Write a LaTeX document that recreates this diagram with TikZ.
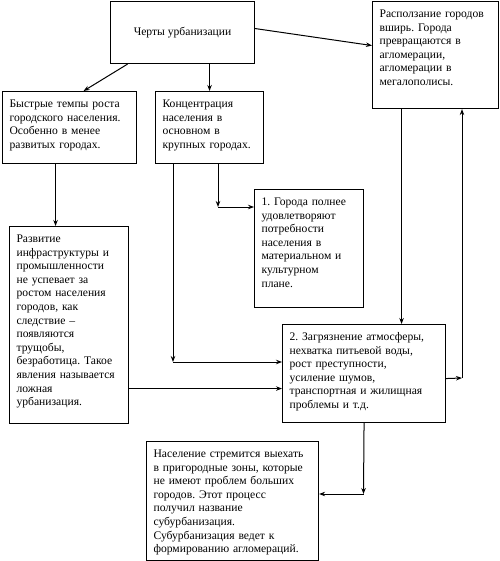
\documentclass[tikz,border=0pt]{standalone}
\usepackage{fontspec}
\setmainfont{Liberation Serif}
\usepackage{tikz}
\usetikzlibrary{arrows.meta}
\frenchspacing
\tikzset{
    % Base style for all boxes
    box base/.style={
        draw=black,
        line width=1.1pt,
        font=\fontsize{11.6}{13.6}\selectfont,
        inner sep=7pt,
    },
    % Text boxes - text kept at the top left
    textbox/.style={
        box base,
        anchor=north west,
        align=left,
        text height=9pt,
    },
    % Title box
    titlebox/.style={
        box base,
        anchor=north west,
        align=center,
    },
    % Plain arrow
    arrow/.style={
        -{Stealth[length=6pt, width=4.5pt]},
        line width=1pt,
    },
}

\begin{document}
\begin{tikzpicture}[x=1pt, y=-1pt]
    \useasboundingbox (0,0) rectangle (499,561);

    \node (features) [titlebox, minimum width=144pt, minimum height=62pt] at (110,1) {Черты урбанизации};
    \node (sprawl) [textbox, text width=112pt, text depth=84pt] at (372,1)
        {Расползание городов\\вширь. Города\\превращаются в\\агломерации,\\агломерации в\\мегалополисы.};
    \node (growth) [textbox, text width=120pt, text depth=49pt] at (2,91)
        {Быстрые темпы роста\\городского населения.\\Особенно в менее\\развитых городах.};
    \node (concentr) [textbox, text width=94pt, text depth=49pt] at (155,91)
        {Концентрация\\населения в\\основном в\\крупных городах.};
    \node (needs) [textbox, text width=95pt, text depth=95pt] at (254,189)
        {1. Города полнее\\удовлетворяют\\потребности\\населения в\\материальном и\\культурном\\плане.};
    \node (infra) [textbox, text width=105pt, text depth=174pt] at (9,226)
        {Развитие\\инфраструктуры и\\промышленности\\не успевает за\\ростом населения\\городов, как\\следствие –\\появляются\\трущобы,\\безработица. Такое\\явления называется\\ложная\\урбанизация.};
    \node (problems) [textbox, text width=149pt, text depth=75pt] at (282,324)
        {2. Загрязнение атмосферы,\\нехватка питьевой воды,\\рост преступности,\\усиление шумов,\\транспортная и жилищная\\проблемы и т.д.};
    \node (suburb) [textbox, text width=158pt, text depth=96pt] at (146,441)
        {Население стремится выехать\\в пригородные зоны, которые\\не имеют проблем больших\\городов. Этот процесс\\получил название\\субурбанизация.\\Субурбанизация ведет к\\формированию агломераций.};

    \coordinate (turnNeeds) at (218,207);
    \coordinate (turnProbl) at (173,362);
    \coordinate (turnBack) at (462,378);
    \coordinate (turnSub) at (363.5,494);

    \draw [arrow] ([yshift=4pt]features.east) -- ([yshift=9.5pt]sprawl.west);
    \draw [arrow] ([xshift=-55pt]features.south) -- ([xshift=14pt]growth.north);
    \draw [arrow] (features.south -| concentr.north) -- (concentr.north);
    \draw [arrow] ([xshift=-14pt]growth.south) -- ([xshift=-14pt]growth.south |- infra.north);
    \draw [arrow] (concentr.south -| turnNeeds) -- (turnNeeds);
    \draw [arrow] (turnNeeds) -- (turnNeeds -| needs.west);
    \draw [arrow] (concentr.south -| turnProbl) -- (turnProbl);
    \draw [arrow] (turnProbl) -- (turnProbl -| problems.west);
    \draw [arrow] ([xshift=-34pt]sprawl.south) -- ([xshift=-34pt]sprawl.south |- problems.north);
    \draw [arrow] ([yshift=-5pt]problems.east) -- (turnBack);
    \draw [arrow] (turnBack) -- (turnBack |- sprawl.south);
    \draw [arrow] ([yshift=-63.5pt]infra.east) -- ([yshift=-63.5pt]infra.east -| problems.west);
    \draw [arrow] (problems.south) -- (turnSub);
    \draw [arrow] (turnSub) -- (turnSub -| suburb.east);
\end{tikzpicture}
\end{document}
